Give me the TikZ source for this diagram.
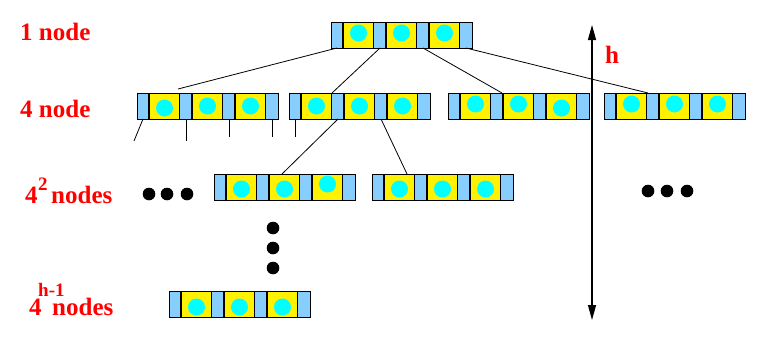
\documentclass[tikz,border=0pt]{standalone}
\usepackage{fontspec}
\setmainfont{Liberation Serif}
\newfontfamily\lblfont{Liberation Serif}
\usepackage{tikz}
\usetikzlibrary{arrows.meta, calc}
\definecolor{ltblue}{HTML}{87CEFF}
\definecolor{keycyan}{HTML}{00FFFF}
\definecolor{lblred}{HTML}{FF0000}
\tikzset{
  bluecell/.style={fill=ltblue},
  yellowcell/.style={fill=yellow},
  keydot/.style={fill=keycyan},
  blackdot/.style={fill=black},
  cellline/.style={line width=1.4pt},
  lbl/.style={text=lblred, font=\lblfont\bfseries\fontsize{25}{30}\selectfont, inner sep=0pt, anchor=base west},
  suplbl/.style={text=lblred, font=\lblfont\bfseries\fontsize{19}{22}\selectfont, inner sep=0pt, anchor=base west},
  link/.style={line width=0.8pt},
  harrow/.style={line width=1.2pt, {Triangle[length=15pt,width=8pt]}-{Triangle[length=15pt,width=8pt]}}
}
% B-tree node: name, top left x, top left y, shifts of the three keys
\newcommand{\btnode}[6]{
    \foreach \k/\dy in {0/#4, 1/#5, 2/#6} {
        \fill[bluecell] (#2+\k*43, #3) rectangle ++(12, 26);
        \fill[yellowcell] (#2+\k*43+12, #3) rectangle ++(31, 26);
        \fill[keydot] (#2+\k*43+27.5, #3+13+\dy) circle (8.5pt);
        \draw[cellline] (#2+\k*43+12, #3) -- ++(0, 26);
        \draw[cellline] (#2+\k*43+43, #3) -- ++(0, 26);
        \coordinate (#1-p\k) at (#2+\k*43+6, #3+26);
    }
    \fill[bluecell] (#2+129, #3) rectangle ++(12, 26);
    \coordinate (#1-p3) at (#2+135, #3+26);
    \node[draw, cellline, minimum width=141pt, minimum height=26pt, inner sep=0pt, anchor=north west] (#1) at (#2, #3) {};
}

\begin{document}
\begin{tikzpicture}[x=1pt, y=-1pt]
    \useasboundingbox (0,0) rectangle (762,338);

    % 1. Nodes of the tree
    \btnode{root}{331}{22}{-2}{-2}{-2}
    \btnode{A}{137}{93}{2}{0}{0}
    \btnode{B}{289}{93}{0}{0}{0}
    \btnode{C}{448}{93}{-2}{-2}{2}
    \btnode{D}{604}{93}{-2}{-2}{-2}
    \btnode{E}{214}{174}{2}{2}{-3}
    \btnode{F}{372}{174}{2}{2}{2}
    \btnode{G}{169}{291}{3}{3}{3}

    % 2. Pointers
    \draw[link] (root-p0) -- ($(A.north west)+(41,-4)$);
    \draw[link] (root-p1) -- ($(B.north west)+(43,0)$);
    \draw[link] (root-p2) -- ($(C.north west)+(54,0)$);
    \draw[link] (root-p3) -- ($(D.north west)+(44,0)$);

    \draw[link] (A-p0) -- ++(-9,22);
    \draw[link] (A-p1) -- ++(0,22);
    \draw[link] (A-p2) -- ++(0,18);
    \draw[link] (A-p3) -- ++(0,18);
    \draw[link] (B-p0) -- ++(0,18);
    \draw[link] (B-p1) -- ($(E.north west)+(68,0)$);
    \draw[link] (B-p2) -- ($(F.north west)+(35,0)$);

    % 3. Dots
    \foreach \x in {149,167,187} {
        \fill[blackdot] (\x,194) circle (6.3pt);
    }
    \foreach \x in {648,667,687} {
        \fill[blackdot] (\x,191) circle (6.3pt);
    }
    \foreach \y in {228,248,268} {
        \fill[blackdot] (273,\y) circle (6.3pt);
    }

    % 4. Height
    \coordinate (htop) at (592,25);
    \coordinate (hbot) at (592,320);
    \draw[harrow] (htop) -- (hbot);
    \node[lbl] (hlbl) at (605,63) {h};

    % 5. Labels
    \node[lbl] (lvl1) at (20,40) {1 node};
    \node[lbl] (lvl2) at (20,117) {4 node};
    \node[lbl] (lvl3) at (25,203) {4};
    \node[suplbl] (lvl3sup) at (38,190) {2};
    \node[lbl] (lvl3txt) at (51,203) {nodes};
    \node[lbl] (lvlh) at (29,315) {4};
    \node[suplbl] (lvlhsup) at (38,296) {h-1};
    \node[lbl] (lvlhtxt) at (52,315) {nodes};
\end{tikzpicture}
\end{document}
